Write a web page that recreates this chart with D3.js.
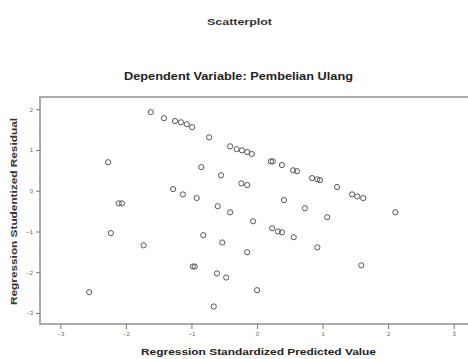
<!DOCTYPE html>
<html>
<head>
<meta charset="utf-8">
<script src="https://cdn.jsdelivr.net/npm/d3@7"></script>
<style>
  body { margin: 0; background: #fff; }
  svg { display: block; font-family: 'Liberation Sans', Arial, sans-serif; }
</style>
</head>
<body>
<svg id="chart"></svg>
<script>
// chart texts
const title = 'Scatterplot'
const subtitle = 'Dependent Variable: Pembelian Ulang'
const xTitle = 'Regression Standardized Predicted Value'
const yTitle = 'Regression Studentized Residual'

// tick values
const xTicks = [-3, -2, -1, 0, 1, 2, 3]
const yTicks = [-3, -2, -1, 0, 1, 2]

// predicted (x) and residual (y) values
const predicted = [
  -1.62, -1.42, -1.25, -1.16, -1.07, -0.99, -0.73, -0.41, -0.31, -0.23, -0.15, -0.08,
  0.21, 0.24, 0.38, 0.55, 0.61, 0.84, 0.92, 0.96, 1.22, 1.45, 1.53, 1.62,
  -2.27, -2.11, -2.06, -0.85, -0.55, -0.24, -0.15, 0.41, 0.73, 1.07, 2.11,
  -1.28, -1.13, -0.92, -0.6, -0.41, -0.06, 0.23, 0.32, 0.38, 0.56, 0.92,
  -2.23, -1.73, -0.82, -0.53, -0.15, 1.59,
  -0.98, -0.95, -0.61, -0.47, 0.0, -0.66, -2.56
]
const residual = [
  1.93, 1.78, 1.71, 1.68, 1.63, 1.56, 1.31, 1.09, 1.02, 0.99, 0.95, 0.9,
  0.72, 0.72, 0.63, 0.5, 0.48, 0.31, 0.28, 0.26, 0.09, -0.09, -0.14, -0.18,
  0.7, -0.31, -0.31, 0.58, 0.38, 0.18, 0.14, -0.23, -0.43, -0.65, -0.53,
  0.04, -0.09, -0.18, -0.38, -0.53, -0.75, -0.92, -1.0, -1.02, -1.14, -1.39,
  -1.04, -1.34, -1.09, -1.27, -1.51, -1.83,
  -1.86, -1.86, -2.03, -2.13, -2.44, -2.84, -2.49
]

const W = 468, H = 359
const frame = { left: 40, top: 97, right: 476, bottom: 324 }

const svg = d3.select('#chart').attr('width', W).attr('height', H)

const x = d3.scaleLinear().domain([-3.31, 3.34]).range([frame.left, frame.right])
const y = d3.scaleLinear().domain([-3.27, 2.3]).range([frame.bottom, frame.top])

// titles (stretched to the widths seen in the picture)
svg.append('text')
  .attr('x', 207).attr('y', 25)
  .attr('textLength', 65).attr('lengthAdjust', 'spacingAndGlyphs')
  .style('font-size', '8.5px').style('font-weight', 'bold').style('fill', '#333')
  .text(title)

svg.append('text')
  .attr('x', 124).attr('y', 80)
  .attr('textLength', 229).attr('lengthAdjust', 'spacingAndGlyphs')
  .style('font-size', '10.5px').style('font-weight', 'bold').style('fill', '#222')
  .text(subtitle)

// frame
svg.append('rect')
  .attr('x', frame.left).attr('y', frame.top)
  .attr('width', frame.right - frame.left).attr('height', frame.bottom - frame.top)
  .attr('fill', 'none').attr('stroke', '#aaa').attr('stroke-width', 2)

// x axis
svg.append('g')
  .attr('transform', `translate(0,${frame.bottom})`)
  .call(d3.axisBottom(x).tickValues(xTicks).tickSize(5).tickPadding(3).tickFormat(d3.format('d')))
  .call((g) => g.select('.domain').remove())
  .call((g) => g.selectAll('line').attr('stroke', '#777'))
  .call((g) => g.selectAll('text').style('font-size', '6px').style('fill', '#666'))

// y axis
svg.append('g')
  .attr('transform', `translate(${frame.left},0)`)
  .call(d3.axisLeft(y).tickValues(yTicks).tickSize(4).tickPadding(3).tickFormat(d3.format('d')))
  .call((g) => g.select('.domain').remove())
  .call((g) => g.selectAll('line').attr('stroke', '#777'))
  .call((g) => g.selectAll('text').style('font-size', '6px').style('fill', '#666'))

// axis titles
svg.append('text')
  .attr('x', 141).attr('y', 355)
  .attr('textLength', 235).attr('lengthAdjust', 'spacingAndGlyphs')
  .style('font-size', '9.5px').style('font-weight', 'bold').style('fill', '#222')
  .text(xTitle)

svg.append('text')
  .attr('transform', `translate(17,305) rotate(-90)`)
  .attr('textLength', 187).attr('lengthAdjust', 'spacingAndGlyphs')
  .style('font-size', '8.5px').style('font-weight', 'bold').style('fill', '#333')
  .text(yTitle)

// points
const pts = predicted.map((p, i) => ({ p, r: residual[i] }))
svg.append('g')
  .selectAll('circle')
  .data(pts)
  .join('circle')
  .attr('cx', (d) => x(d.p))
  .attr('cy', (d) => y(d.r))
  .attr('r', 2.6)
  .attr('fill', 'none')
  .attr('stroke', '#555')
  .attr('stroke-width', 1)
</script>
</body>
</html>
